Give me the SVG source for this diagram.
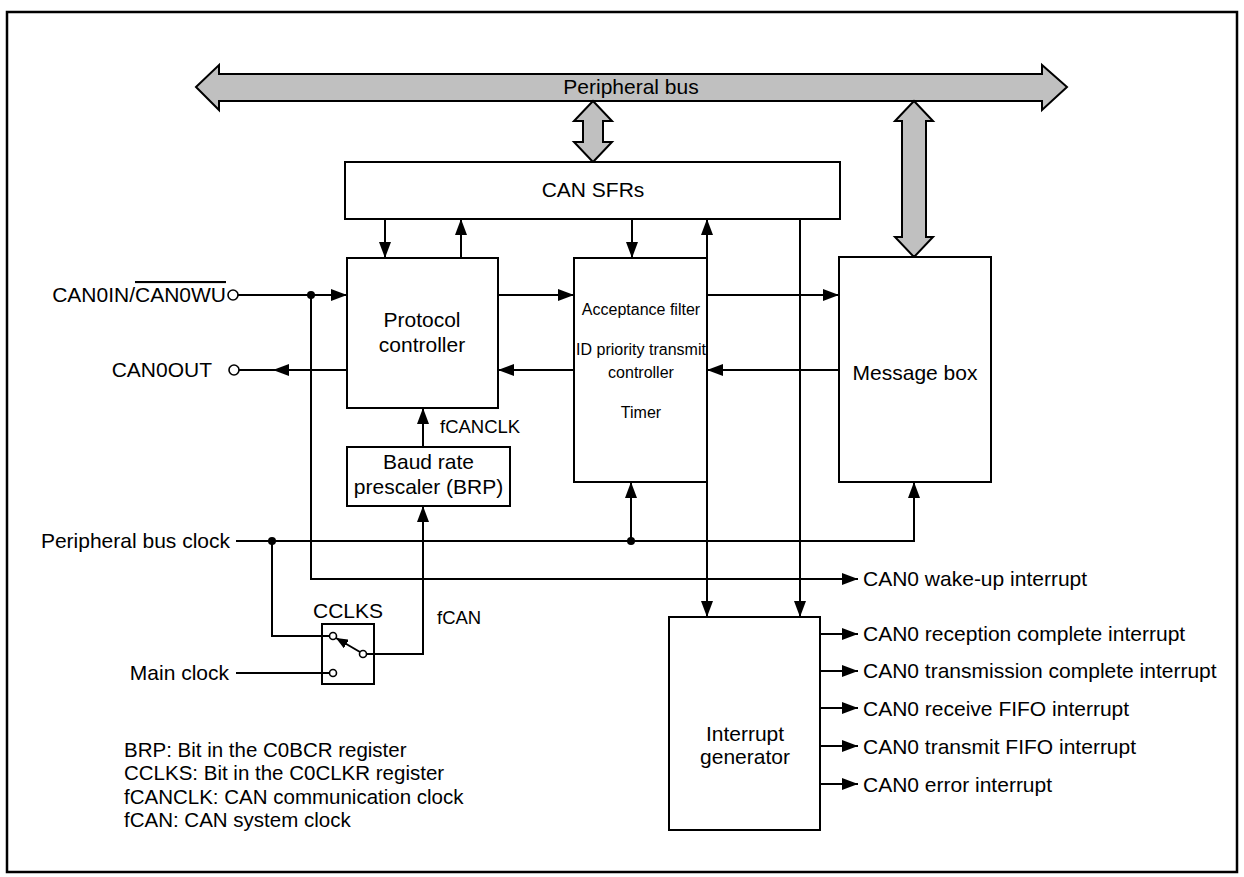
<svg xmlns="http://www.w3.org/2000/svg" width="1244" height="877" viewBox="0 0 1244 877">
<style>
text{font-family:"Liberation Sans",Arial,sans-serif;font-size:21px;fill:#000}
.c{text-anchor:middle}
.r{text-anchor:end}
.sm{font-size:16px}
.fc{font-size:18.5px}
.lg{font-size:20.5px}
.box{fill:#fff;stroke:#000;stroke-width:2}
.bus{fill:#c0c0c0;stroke:#000;stroke-width:2;stroke-linejoin:miter}
.ln{fill:none;stroke:#000;stroke-width:2}
.pin{fill:#fff;stroke:#000;stroke-width:1.6}
</style>
<defs>
<marker id="ah" viewBox="0 0 16 12" refX="16" refY="6" markerWidth="16" markerHeight="12" markerUnits="userSpaceOnUse" orient="auto">
<path d="M0,0 L16,6 L0,12 Z" fill="#000"/>
</marker>
<marker id="ahs" viewBox="0 0 12 10" refX="12" refY="5" markerWidth="12" markerHeight="10" markerUnits="userSpaceOnUse" orient="auto">
<path d="M0,0 L12,5 L0,10 Z" fill="#000"/>
</marker>
</defs>
<rect x="7" y="12" width="1230" height="860" fill="#fff" stroke="#000" stroke-width="2.5"/>

<g id="peripheral-bus">
<polygon class="bus" points="196,87 219,65 219,74 1042,74 1042,65 1067,87 1042,110 1042,101 219,101 219,110"/>
<text class="c" x="631" y="94">Peripheral bus</text>
</g>
<g id="bus-sfr">
<polygon class="bus" points="593,101 612,121 603,121 603,142 612,142 593,162 574,142 583,142 583,121 574,121"/>
</g>
<g id="bus-msg">
<polygon class="bus" points="914,101 933,121 926,121 926,237 933,237 914,257 895,237 902,237 902,121 895,121"/>
</g>

<g id="can-sfrs">
<rect class="box" x="345" y="162" width="495" height="57"/>
<text class="c" x="593" y="197">CAN SFRs</text>
</g>
<g id="protocol-controller">
<rect class="box" x="347" y="258" width="151" height="150"/>
<text class="c" x="422" y="327">Protocol</text>
<text class="c" x="422" y="352">controller</text>
</g>
<g id="acceptance-filter">
<rect class="box" x="574" y="258" width="133" height="224"/>
<text class="c sm" x="641" y="315">Acceptance filter</text>
<text class="c sm" x="641" y="355">ID priority transmit</text>
<text class="c sm" x="641" y="378">controller</text>
<text class="c sm" x="641" y="418">Timer</text>
</g>
<g id="message-box">
<rect class="box" x="839" y="257" width="152" height="225"/>
<text class="c" x="915" y="380">Message box</text>
</g>
<g id="baud-rate">
<rect class="box" x="347" y="447" width="163" height="59"/>
<text class="c" x="428.5" y="469">Baud rate</text>
<text class="c" x="428.5" y="494">prescaler (BRP)</text>
</g>
<g id="interrupt-generator">
<rect class="box" x="669" y="617" width="151" height="213"/>
<text class="c" x="745" y="741">Interrupt</text>
<text class="c" x="745" y="764">generator</text>
</g>
<g id="cclks">
<rect class="box" x="322" y="624" width="52" height="60"/>
<text class="c" x="348" y="618">CCLKS</text>
</g>

<g id="connectors">
<line class="ln" x1="385" y1="219" x2="385" y2="258" marker-end="url(#ah)"/>
<line class="ln" x1="461" y1="258" x2="461" y2="219" marker-end="url(#ah)"/>
<line class="ln" x1="632" y1="219" x2="632" y2="258" marker-end="url(#ah)"/>
<line class="ln" x1="707" y1="258" x2="707" y2="219" marker-end="url(#ah)"/>
<line class="ln" x1="800" y1="219" x2="800" y2="617" marker-end="url(#ah)"/>
<line class="ln" x1="707" y1="482" x2="707" y2="617" marker-end="url(#ah)"/>

<line class="ln" x1="498" y1="295" x2="574" y2="295" marker-end="url(#ah)"/>
<line class="ln" x1="574" y1="370" x2="498" y2="370" marker-end="url(#ah)"/>
<line class="ln" x1="707" y1="295" x2="839" y2="295" marker-end="url(#ah)"/>
<line class="ln" x1="839" y1="370" x2="707" y2="370" marker-end="url(#ah)"/>

<line class="ln" x1="238" y1="295" x2="347" y2="295" marker-end="url(#ah)"/>
<circle cx="311" cy="295" r="4" fill="#000"/>
<polyline class="ln" points="311,295 311,579 858,579" marker-end="url(#ah)"/>

<line class="ln" x1="239" y1="370" x2="347" y2="370"/>
<polygon points="273,370 289,364 289,376" fill="#000"/>

<line class="ln" x1="423" y1="447" x2="423" y2="408" marker-end="url(#ah)"/>

<polyline class="ln" points="236,541 914,541 914,482" marker-end="url(#ah)"/>
<circle cx="272" cy="541" r="4" fill="#000"/>
<circle cx="631" cy="541" r="4" fill="#000"/>
<line class="ln" x1="631" y1="541" x2="631" y2="482" marker-end="url(#ah)"/>

<polyline class="ln" points="272,541 272,636 329.5,636"/>
<line class="ln" x1="236" y1="673" x2="329.5" y2="673"/>
<polyline class="ln" points="366.5,654 423,654 423,506" marker-end="url(#ah)"/>
<line class="ln" x1="360" y1="652" x2="336" y2="638" marker-end="url(#ahs)"/>
<circle class="pin" cx="333" cy="636" r="3.5"/>
<circle class="pin" cx="363" cy="654" r="3.5"/>
<circle class="pin" cx="333" cy="673" r="3.5"/>

<line class="ln" x1="820" y1="634" x2="858" y2="634" marker-end="url(#ah)"/>
<line class="ln" x1="820" y1="671" x2="858" y2="671" marker-end="url(#ah)"/>
<line class="ln" x1="820" y1="708" x2="858" y2="708" marker-end="url(#ah)"/>
<line class="ln" x1="820" y1="746" x2="858" y2="746" marker-end="url(#ah)"/>
<line class="ln" x1="820" y1="784" x2="858" y2="784" marker-end="url(#ah)"/>

<circle class="pin" cx="233" cy="295" r="5"/>
<circle class="pin" cx="234" cy="370" r="5"/>
</g>

<g id="labels">
<text class="r" x="226" y="302">CAN0IN/<tspan style="text-decoration:overline">CAN0WU</tspan></text>
<text class="r" x="212" y="377">CAN0OUT</text>
<text class="fc" x="440" y="433">fCANCLK</text>
<text class="fc" x="437" y="624">fCAN</text>
<text class="r" x="230" y="548">Peripheral bus clock</text>
<text class="r" x="229" y="680">Main clock</text>
<text x="863" y="586">CAN0 wake-up interrupt</text>
<text x="863" y="641">CAN0 reception complete interrupt</text>
<text x="863" y="678">CAN0 transmission complete interrupt</text>
<text x="863" y="716">CAN0 receive FIFO interrupt</text>
<text x="863" y="754">CAN0 transmit FIFO interrupt</text>
<text x="863" y="792">CAN0 error interrupt</text>
<text class="lg" x="124" y="757">BRP: Bit in the C0BCR register</text>
<text class="lg" x="124" y="780">CCLKS: Bit in the C0CLKR register</text>
<text class="lg" x="124" y="804">fCANCLK: CAN communication clock</text>
<text class="lg" x="124" y="827">fCAN: CAN system clock</text>
</g>
</svg>
